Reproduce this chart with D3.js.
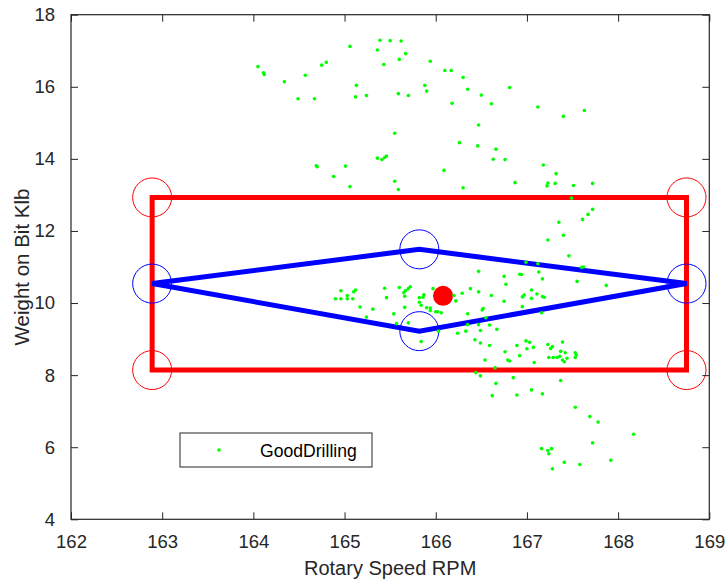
<!DOCTYPE html>
<html>
<head>
<meta charset="utf-8">
<script src="https://cdn.jsdelivr.net/npm/d3@7"></script>
<style>
  html, body { margin: 0; padding: 0; background: #ffffff; }
  svg { display: block; }
  text { font-family: "Liberation Sans", Arial, Helvetica, sans-serif; }
</style>
</head>
<body>
<svg id="chart" width="728" height="584"></svg>
<script>
// ---------------- data ----------------
const xTicks = [162, 163, 164, 165, 166, 167, 168, 169];
const yTicks = [4, 6, 8, 10, 12, 14, 16, 18];
const xLabel = "Rotary Speed RPM";
const yLabel = "Weight on Bit Klb";
const legendLabel = "GoodDrilling";

// operating-window rectangle (RPM, WOB)
const boxRpm = [162.89, 168.75, 168.75, 162.89];
const boxWob = [12.93, 12.93, 8.14, 8.14];

// diamond (RPM, WOB)
const diamondRpm = [162.89, 165.82, 168.75, 165.82];
const diamondWob = [10.54, 11.49, 10.54, 9.22];

// center point
const centerRpm = [166.08];
const centerWob = [10.2];

// GoodDrilling scatter [RPM, WOB]
const goodDrilling = [
  [164.05,16.56],[164.11,16.39],[164.12,16.34],[164.34,16.14],[164.49,15.67],[164.57,16.32],[164.67,15.67],
  [164.75,16.60],[164.80,16.68],[165.06,17.12],[165.13,16.04],[165.12,15.72],[165.24,15.76],[165.36,17.02],
  [165.39,17.29],[165.50,17.28],[165.62,17.27],[165.43,16.62],[165.60,16.76],[165.67,16.92],[165.59,15.81],
  [165.70,15.76],[165.94,16.71],[165.88,16.04],[165.90,15.88],[166.10,16.45],[166.17,16.45],[166.30,16.26],
  [166.35,15.93],[166.18,15.54],[166.50,15.77],[166.61,15.53],[166.81,15.98],[167.12,15.44],[167.40,15.18],
  [167.63,15.34],[166.47,14.94],[165.55,14.71],[166.26,14.45],[166.46,14.36],[166.66,14.27],[166.63,13.99],
  [166.76,13.98],[165.36,14.02],[165.41,13.98],[165.44,14.04],[165.46,14.08],[164.69,13.81],[164.70,13.78],
  [165.01,13.80],[164.88,13.51],[165.06,13.23],[165.55,13.38],[165.59,13.15],[166.09,13.68],[166.30,13.20],
  [166.87,13.34],[167.18,13.83],[167.32,13.59],[167.23,13.33],[167.22,13.25],[167.31,13.32],[167.51,13.26],
  [167.72,13.32],[167.49,12.91],
  [167.72,12.60],[167.67,12.46],[167.61,12.32],[167.35,12.24],[167.40,11.88],[167.23,11.75],[167.46,11.31],
  [167.60,10.99],[167.62,11.00],[166.99,11.13],[167.12,11.09],[166.47,10.88],[166.75,10.74],[166.92,10.80],
  [166.94,10.79],[167.13,10.86],[167.17,10.67],[166.77,10.52],[167.55,10.60],[167.87,10.49],
  [165.44,10.41],[165.60,10.43],[165.65,10.29],[165.67,10.35],[165.70,10.40],[165.72,10.45],[165.66,10.19],
  [165.46,10.15],[165.82,10.15],[165.87,10.23],[165.86,10.16],[165.82,10.02],[165.84,9.94],[165.90,9.87],
  [165.94,9.86],[165.94,9.79],[165.54,9.70],[165.66,9.88],[165.57,9.43],[165.70,9.45],[166.00,9.76],
  [166.02,9.76],[166.06,9.73],[165.97,10.40],[166.20,10.21],[166.22,10.06],[166.29,10.27],[166.38,10.40],
  [166.47,10.31],[166.35,9.70],[166.61,10.21],[166.75,10.05],[166.95,10.17],[166.97,10.22],[167.05,10.36],
  [167.05,10.13],[167.11,10.25],[167.17,10.18],[167.19,10.16],[166.95,9.90],[167.16,9.73],[166.51,9.81],
  [166.52,9.85],[166.55,9.59],[166.47,9.40],[166.59,9.39],[166.67,9.27],[166.35,9.40],[166.33,9.22],
  [166.49,9.24],[166.24,9.16],[166.03,9.22],[165.84,8.93],[166.43,8.98],[166.49,8.89],[166.59,8.82],
  [166.76,8.65],[166.89,8.82],[166.92,8.54],[166.79,8.42],[166.81,8.39],[166.99,8.95],[167.03,8.91],
  [167.00,8.73],[167.07,8.77],[167.08,8.35],[167.23,8.85],[167.26,8.74],[167.28,8.79],[167.24,8.49],
  [167.29,8.49],[167.33,8.49],[167.37,8.66],[167.36,8.52],[167.39,8.92],[167.39,8.42],[167.41,8.37],
  [167.42,8.62],[167.44,8.47],[167.53,8.62],[167.54,8.56],[167.53,8.49],[166.54,8.42],[166.65,8.20],
  [166.44,8.07],[166.49,7.98],[166.85,7.93],[166.66,7.77],[167.05,7.59],[167.17,7.48],[166.89,7.45],
  [166.62,7.43],[167.37,7.85],[167.53,7.11],[167.69,6.85],[167.78,6.70],[168.17,6.36],[167.72,6.12],
  [167.16,5.96],[167.23,5.91],[167.27,5.96],[167.24,5.82],[167.41,5.58],[167.58,5.52],[167.28,5.40],
  [167.92,5.64],
  [164.96,10.34],[164.90,10.12],[164.96,10.12],[165.03,10.12],[165.09,10.12],[165.03,10.21],[165.10,10.31],
  [165.12,10.36],[165.17,9.89],[165.31,9.83],[165.24,9.61]
];

// ---------------- layout ----------------
const svg = d3.select("#chart");
const L = 71, R = 709.3, T = 14.7, B = 519.3;
const axisColor = "#262626";

const x = d3.scaleLinear().domain([162, 169]).range([L, R]);
const y = d3.scaleLinear().domain([4, 18]).range([B, T]);

const plot = svg.append("g");

// rectangle
const boxPts = boxRpm.map((r, i) => [x(r), y(boxWob[i])]);
plot.append("path")
  .attr("d", d3.line()(boxPts) + "Z")
  .attr("fill", "none").attr("stroke", "#ff0000").attr("stroke-width", 5)
  .attr("stroke-linejoin", "miter");

// diamond
const diaPts = diamondRpm.map((r, i) => [x(r), y(diamondWob[i])]);
plot.append("path")
  .attr("d", d3.line()(diaPts) + "Z")
  .attr("fill", "none").attr("stroke", "#0000ff").attr("stroke-width", 5)
  .attr("stroke-linejoin", "miter");

// circle markers at vertices
plot.selectAll("circle.boxm").data(boxRpm.map((r, i) => [r, boxWob[i]])).enter()
  .append("circle").attr("class", "boxm")
  .attr("cx", d => x(d[0])).attr("cy", d => y(d[1])).attr("r", 19.5)
  .attr("fill", "none").attr("stroke", "#ff0000").attr("stroke-width", 1);
plot.selectAll("circle.diam").data(diamondRpm.map((r, i) => [r, diamondWob[i]])).enter()
  .append("circle").attr("class", "diam")
  .attr("cx", d => x(d[0])).attr("cy", d => y(d[1])).attr("r", 19.5)
  .attr("fill", "none").attr("stroke", "#0000ff").attr("stroke-width", 1);

// center point
plot.selectAll("circle.center").data(centerRpm.map((r, i) => [r, centerWob[i]])).enter()
  .append("circle").attr("class", "center")
  .attr("cx", d => x(d[0])).attr("cy", d => y(d[1])).attr("r", 10)
  .attr("fill", "#ff0000");

// green scatter
plot.selectAll("circle.good").data(goodDrilling).enter()
  .append("circle").attr("class", "good")
  .attr("cx", d => x(d[0])).attr("cy", d => y(d[1])).attr("r", 1.8)
  .attr("fill", "#00ff00");

// ---------------- axes ----------------
const tickLen = 7;
const fsTick = 18.5;
function styleAxis(g) {
  g.select(".domain").remove();
  g.selectAll(".tick line").attr("stroke", axisColor).attr("stroke-width", 1);
  g.selectAll(".tick text").attr("fill", axisColor).attr("font-size", fsTick)
    .attr("font-family", "'Liberation Sans', Arial, sans-serif");
}
// bottom
svg.append("g").attr("transform", `translate(0,${B})`)
  .call(d3.axisBottom(x).tickValues(xTicks).tickFormat(d3.format("d")).tickSizeInner(-tickLen).tickSizeOuter(0).tickPadding(16))
  .call(styleAxis);
// top
svg.append("g").attr("transform", `translate(0,${T})`)
  .call(d3.axisTop(x).tickValues(xTicks).tickSizeInner(-tickLen).tickSizeOuter(0).tickFormat(""))
  .call(styleAxis);
// left
svg.append("g").attr("transform", `translate(${L},0)`)
  .call(d3.axisLeft(y).tickValues(yTicks).tickFormat(d3.format("d")).tickSizeInner(-tickLen).tickSizeOuter(0).tickPadding(16))
  .call(styleAxis);
// right
svg.append("g").attr("transform", `translate(${R},0)`)
  .call(d3.axisRight(y).tickValues(yTicks).tickSizeInner(-tickLen).tickSizeOuter(0).tickFormat(""))
  .call(styleAxis);

// box frame
svg.append("rect").attr("x", L).attr("y", T).attr("width", R - L).attr("height", B - T)
  .attr("fill", "none").attr("stroke", axisColor).attr("stroke-width", 1.2);

// axis titles
svg.append("text").attr("x", (L + R) / 2).attr("y", 575).attr("text-anchor", "middle")
  .attr("font-size", 20).attr("fill", axisColor).text(xLabel);
svg.append("text").attr("transform", `translate(29,${(T + B) / 2}) rotate(-90)`).attr("text-anchor", "middle")
  .attr("font-size", 20.5).attr("fill", axisColor).text(yLabel);

// ---------------- legend ----------------
const lg = svg.append("g");
lg.append("rect").attr("x", 180).attr("y", 433).attr("width", 192).attr("height", 34)
  .attr("fill", "#ffffff").attr("stroke", axisColor).attr("stroke-width", 1);
lg.append("circle").attr("cx", 219).attr("cy", 450).attr("r", 1.8).attr("fill", "#00ff00");
lg.append("text").attr("x", 260).attr("y", 457).attr("font-size", 17.6).attr("fill", "#000000").text(legendLabel);
</script>
</body>
</html>
